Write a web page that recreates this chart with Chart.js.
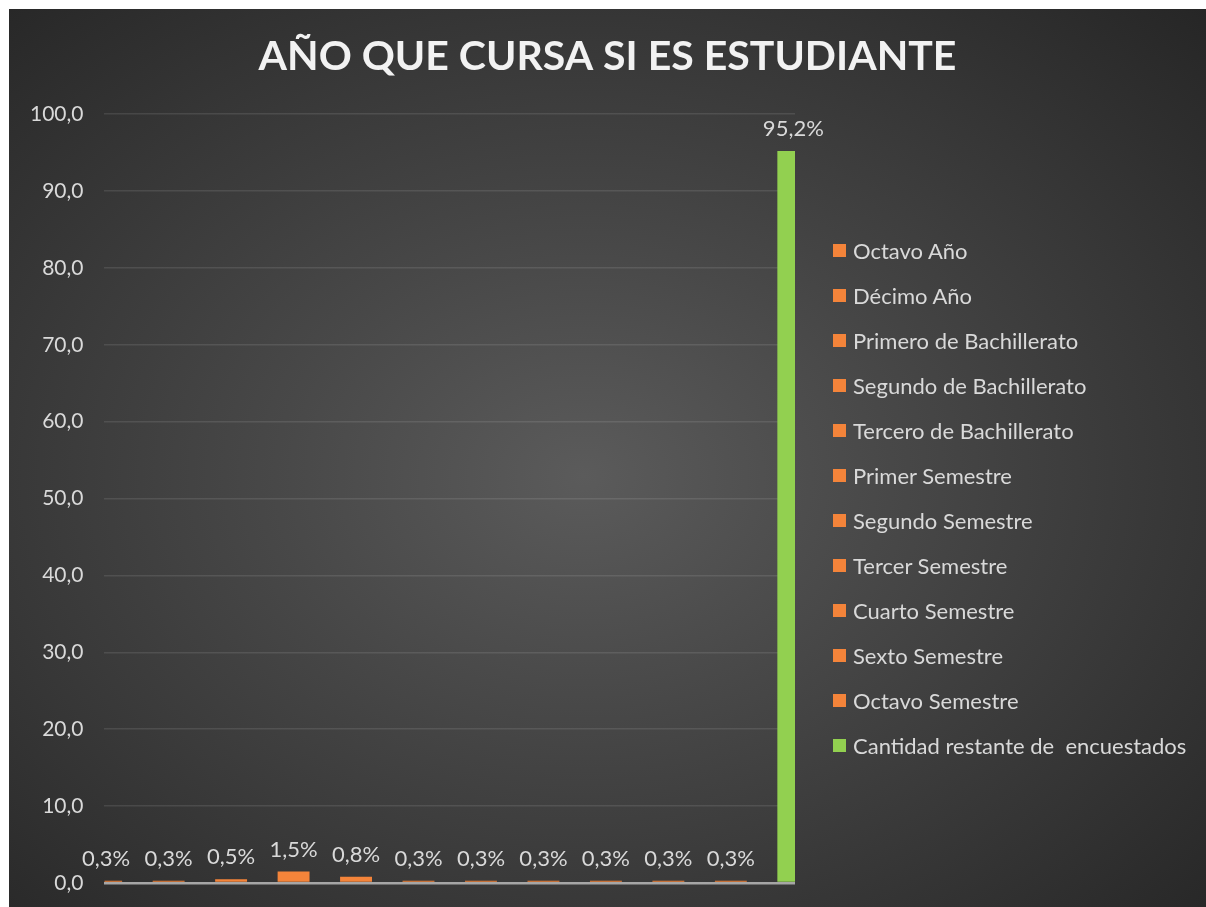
<!DOCTYPE html>
<html>
<head>
<meta charset="utf-8">
<script src="https://cdn.jsdelivr.net/npm/chart.js@4"></script>
<style>
  body { margin: 0; background: #fff; }
  #wrap {
    position: absolute; left: 9px; top: 9px; width: 1197px; height: 898px;
    background: radial-gradient(ellipse farthest-corner at 48% 52%, #5b5b5b 0%, #484848 35%, #262626 100%);
  }
  #legend { position: absolute; left: 824px; top: 219px; font: 22px Lato; color: #d9d9d9; }
  #legend .item { height: 45px; line-height: 45px; white-space: pre; display: flex; align-items: center; }
  #legend .box { width: 13px; height: 13px; margin-right: 7px; }
</style>
</head>
<body>
<div id="wrap"><canvas id="bar-chart"></canvas><div id="legend"></div></div>
<script>
const categories = ['Octavo Año', 'Décimo Año', 'Primero de Bachillerato', 'Segundo de Bachillerato',
  'Tercero de Bachillerato', 'Primer Semestre', 'Segundo Semestre', 'Tercer Semestre',
  'Cuarto Semestre', 'Sexto Semestre', 'Octavo Semestre', 'Cantidad restante de  encuestados']
const values = [0.3, 0.3, 0.5, 1.5, 0.8, 0.3, 0.3, 0.3, 0.3, 0.3, 0.3, 95.2]
const yTicks = [0, 10, 20, 30, 40, 50, 60, 70, 80, 90, 100]

const orange = '#F4843A'
const green = '#92D050'
const textColor = '#d9d9d9'
const font = 'Lato'

const ctx = document.getElementById('bar-chart').getContext('2d')

const datasets = categories.map((name, i) => ({
    label: name,
    data: [values[i]],
    backgroundColor: i === categories.length - 1 ? green : orange,
    borderWidth: 0,
    clip: 0
}))

// percent labels above each bar
const valueLabels = {
    id: 'valueLabels',
    afterDatasetsDraw(chart) {
        const c = chart.ctx
        c.save()
        c.fillStyle = textColor
        c.font = `22px ${font}`
        c.textAlign = 'center'
        c.textBaseline = 'bottom'
        chart.data.datasets.forEach((ds, i) => {
            const bar = chart.getDatasetMeta(i).data[0]
            const txt = ds.data[0].toFixed(1).replace('.', ',') + '%'
            c.fillText(txt, bar.x, bar.y - 11)
        })
        c.restore()
    }
}

// html legend, the built-in one gets squeezed on the right
const htmlLegend = {
    id: 'htmlLegend',
    afterUpdate(chart) {
        const box = document.getElementById('legend')
        box.innerHTML = ''
        const items = Chart.defaults.plugins.legend.labels.generateLabels(chart)
        items.forEach(item => {
            const row = document.createElement('div')
            row.className = 'item'
            const sw = document.createElement('span')
            sw.className = 'box'
            sw.style.background = item.fillStyle
            const txt = document.createElement('span')
            txt.textContent = item.text
            row.appendChild(sw)
            row.appendChild(txt)
            box.appendChild(row)
        })
    }
}

new Chart(ctx, {
    type: 'bar',
    data: { labels: [''], datasets: datasets },
    options: {
        responsive: true,
        maintainAspectRatio: false,
        animation: false,
        categoryPercentage: 1.0856,
        barPercentage: 0.511,
        layout: { padding: { left: 0, right: 0, top: 0, bottom: 24 } },
        scales: {
            x: { display: false },
            y: {
                min: 0,
                max: 100,
                afterBuildTicks: axis => { axis.ticks = yTicks.map(v => ({ value: v })) },
                afterFit: s => { s.paddingBottom = 0 },
                ticks: {
                    color: textColor,
                    font: { family: font, size: 21 },
                    padding: 21,
                    callback: v => v.toFixed(1).replace('.', ',')
                },
                grid: {
                    drawTicks: false,
                    color: c => c.tick && c.tick.value === 0 ? '#a6a6a6' : 'rgba(255,255,255,0.1)',
                    lineWidth: c => c.tick && c.tick.value === 0 ? 2.5 : 1.5
                },
                border: { display: false }
            },
            // empty axis that keeps room for the legend on the right
            side: {
                position: 'right',
                display: true,
                ticks: { display: false },
                grid: { display: false, drawTicks: false },
                border: { display: false },
                afterFit: s => { s.width = 411 }
            }
        },
        plugins: {
            title: {
                display: true,
                text: 'AÑO QUE CURSA SI ES ESTUDIANTE',
                color: '#f2f2f2',
                font: { family: font, size: 41, weight: 'bold' },
                padding: { top: 23, bottom: 33 }
            },
            legend: { display: false },
            tooltip: { enabled: false }
        }
    },
    plugins: [valueLabels, htmlLegend]
})
</script>
</body>
</html>
